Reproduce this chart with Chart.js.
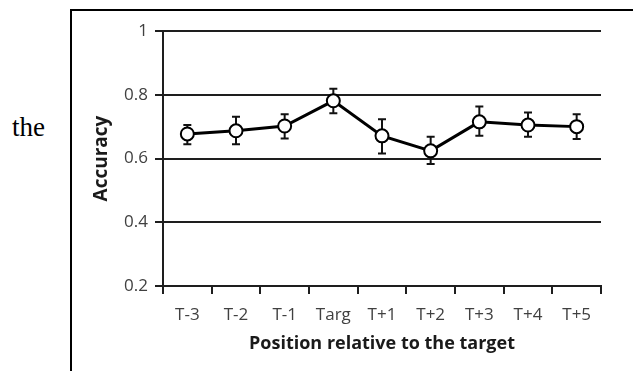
<!DOCTYPE html>
<html>
<head>
<meta charset="utf-8">
<script src="https://cdn.jsdelivr.net/npm/chart.js@4/dist/chart.umd.min.js"></script>
<style>
  html, body { margin: 0; padding: 0; background: #fff; }
  #wrap { position: relative; width: 633px; height: 371px; overflow: hidden; }
  #c { position: absolute; left: 0; top: 0; }
  #frame { position: absolute; left: 70px; top: 9px; width: 570px; height: 380px;
           border-left: 2px solid #000; border-top: 2px solid #000; box-sizing: border-box; }
  #word { position: absolute; left: 12px; top: 114px; font-family: "Liberation Serif", serif;
          font-size: 27px; color: #000; line-height: 1; }
</style>
</head>
<body>
<div id="wrap">
  <div id="word">the</div>
  <div id="frame"></div>
  <canvas id="c" width="633" height="371"></canvas>
</div>
<script>
const categories = ['T-3', 'T-2', 'T-1', 'Targ', 'T+1', 'T+2', 'T+3', 'T+4', 'T+5'];
const accuracy   = [0.677, 0.687, 0.702, 0.781, 0.671, 0.624, 0.715, 0.705, 0.700];
const errLow     = [0.645, 0.645, 0.663, 0.742, 0.616, 0.583, 0.671, 0.668, 0.661];
const errHigh    = [0.705, 0.731, 0.739, 0.819, 0.723, 0.668, 0.763, 0.744, 0.739];
const yTicks     = [0.2, 0.4, 0.6, 0.8, 1];
const yTickLabels = ['0.2', '0.4', '0.6', '0.8', '1'];
const xTitle = 'Position relative to the target';
const yTitle = 'Accuracy';

const errorBars = {
  id: 'errorBars',
  beforeDatasetsDraw(chart) {
    const ctx = chart.ctx, x = chart.scales.x, y = chart.scales.y;
    ctx.save();
    ctx.strokeStyle = '#111';
    ctx.lineWidth = 2;
    accuracy.forEach((v, i) => {
      const px = x.getPixelForValue(i);
      const yt = y.getPixelForValue(errHigh[i]);
      const yb = y.getPixelForValue(errLow[i]);
      ctx.beginPath();
      ctx.moveTo(px, yt); ctx.lineTo(px, yb);
      ctx.moveTo(px - 4, yt); ctx.lineTo(px + 4, yt);
      ctx.moveTo(px - 4, yb); ctx.lineTo(px + 4, yb);
      ctx.stroke();
    });
    ctx.restore();
  }
};

const gridColor = '#1e1e1e';
const tickFont = { family: 'Open Sans', size: 17 };
const titleFont = { family: 'Open Sans', size: 18, weight: 'bold' };

new Chart(document.getElementById('c'), {
  type: 'line',
  data: {
    labels: categories,
    datasets: [{
      data: accuracy,
      borderColor: '#000',
      borderWidth: 3,
      pointRadius: 6.5,
      pointBackgroundColor: '#fff',
      pointBorderColor: '#000',
      pointBorderWidth: 2,
      tension: 0,
      fill: false
    }]
  },
  options: {
    responsive: false,
    animation: false,
    devicePixelRatio: 1,
    layout: { padding: { left: 80, top: 31, right: 32, bottom: 0 } },
    plugins: { legend: { display: false }, tooltip: { enabled: false } },
    scales: {
      x: {
        offset: true,
        grid: { display: true, offset: true, drawOnChartArea: false, drawTicks: true, tickLength: 8, color: gridColor, lineWidth: 2 },
        border: { display: true, color: gridColor, width: 2 },
        ticks: { font: tickFont, color: '#404040', padding: 11, maxRotation: 0 },
        title: { display: true, text: xTitle, font: titleFont, color: '#1a1a1a', padding: { top: 0, bottom: 16 } },
        afterFit(s) { s.height = 85; }
      },
      y: {
        min: 0.2, max: 1,
        afterBuildTicks(s) { s.ticks = yTicks.map(v => ({ value: v })); },
        grid: { display: true, drawTicks: true, tickLength: 8, color: gridColor, lineWidth: 2 },
        border: { display: true, color: gridColor, width: 2 },
        ticks: { font: tickFont, color: '#404040', padding: 7,
                 callback(v) { const i = yTicks.indexOf(v); return i >= 0 ? yTickLabels[i] : ''; } },
        title: { display: true, text: yTitle, font: { family: 'Open Sans', size: 19, weight: 'bold' }, color: '#1a1a1a', padding: { top: 10, bottom: 0 } },
        afterFit(s) { s.width = 83; }
      }
    }
  },
  plugins: [errorBars]
});
</script>
</body>
</html>
